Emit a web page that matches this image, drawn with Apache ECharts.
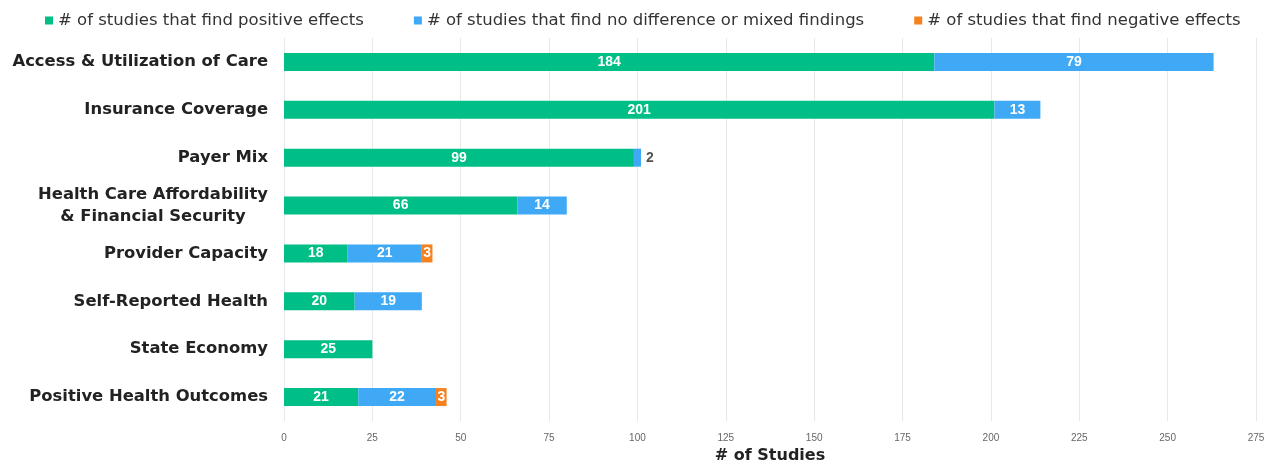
<!DOCTYPE html>
<html>
<head>
<meta charset="utf-8">
<script src="https://cdn.jsdelivr.net/npm/echarts@6/dist/echarts.min.js"></script>
<style>
  html, body { margin: 0; padding: 0; background: #fff; }
  #chart { width: 1268px; height: 470px; }
</style>
</head>
<body>
<div id="chart"></div>
<script>
const categories = [
  "Access & Utilization of Care",
  "Insurance Coverage",
  "Payer Mix",
  "Health Care Affordability\n& Financial Security",
  "Provider Capacity",
  "Self-Reported Health",
  "State Economy",
  "Positive Health Outcomes",
];

const positive = [184, 201, 99, 66, 18, 20, 25, 21];
const mixed = [79, 13, 2, 14, 21, 19, null, 22];
const negative = [null, null, null, null, 3, null, null, 3];

const seriesNames = [
  "# of studies that find positive effects",
  "# of studies that find no difference or mixed findings",
  "# of studies that find negative effects",
];
const colors = ["#00bf86", "#3fa9f5", "#f5821f"];

const chart = echarts.init(document.getElementById("chart"));

const insideLabel = {
  show: true,
  position: "inside",
  color: "#fff",
  fontWeight: "bold",
  fontSize: 14,
  fontFamily: "Liberation Sans, Arial, sans-serif",
};

// tiny segments get their label outside the bar
const withOutsideSmall = (values) =>
  values.map((v) =>
    v !== null && v < 3
      ? { value: v, label: { position: "right", color: "#555" } }
      : v
  );

const option = {
  animation: false,
  textStyle: { fontFamily: "DejaVu Sans, sans-serif" },
  legend: {
    top: 7,
    left: 40,
    itemWidth: 8,
    itemHeight: 8,
    itemGap: 50,
    icon: "rect",
    textStyle: { fontSize: 16.5, color: "#333", fontFamily: "DejaVu Sans, sans-serif" },
    data: seriesNames,
  },
  grid: { left: 284, right: 12, top: 38, bottom: 49 },
  xAxis: {
    type: "value",
    min: 0,
    max: 275,
    interval: 25,
    name: "# of Studies",
    nameLocation: "middle",
    nameGap: 26,
    nameTextStyle: { fontSize: 16, fontWeight: "bold", color: "#222", fontFamily: "DejaVu Sans, sans-serif" },
    axisLine: { show: false },
    axisTick: { show: false },
    axisLabel: { fontSize: 10, color: "#666", margin: 12, fontFamily: "Liberation Sans Narrow, Arial, sans-serif" },
    splitLine: { lineStyle: { color: "#e8e8e8" } },
  },
  yAxis: {
    type: "category",
    inverse: true,
    data: categories,
    axisLine: { show: false },
    axisTick: { show: false },
    axisLabel: {
      margin: 16,
      formatter: (v) =>
        v.split("\n").map((line) => "{c|" + line + "}").join("\n"),
      rich: {
        c: {
          align: "center",
          fontSize: 16.4,
          fontWeight: "bold",
          color: "#222",
          lineHeight: 22,
          fontFamily: "DejaVu Sans, sans-serif",
        },
      },
    },
  },
  series: [
    {
      name: seriesNames[0],
      type: "bar",
      stack: "total",
      barWidth: 18,
      itemStyle: { color: colors[0] },
      label: insideLabel,
      data: positive,
    },
    {
      name: seriesNames[1],
      type: "bar",
      stack: "total",
      barWidth: 18,
      itemStyle: { color: colors[1] },
      label: insideLabel,
      data: withOutsideSmall(mixed),
    },
    {
      name: seriesNames[2],
      type: "bar",
      stack: "total",
      barWidth: 18,
      itemStyle: { color: colors[2] },
      label: insideLabel,
      data: negative,
    },
  ],
};

chart.setOption(option);
</script>
</body>
</html>
